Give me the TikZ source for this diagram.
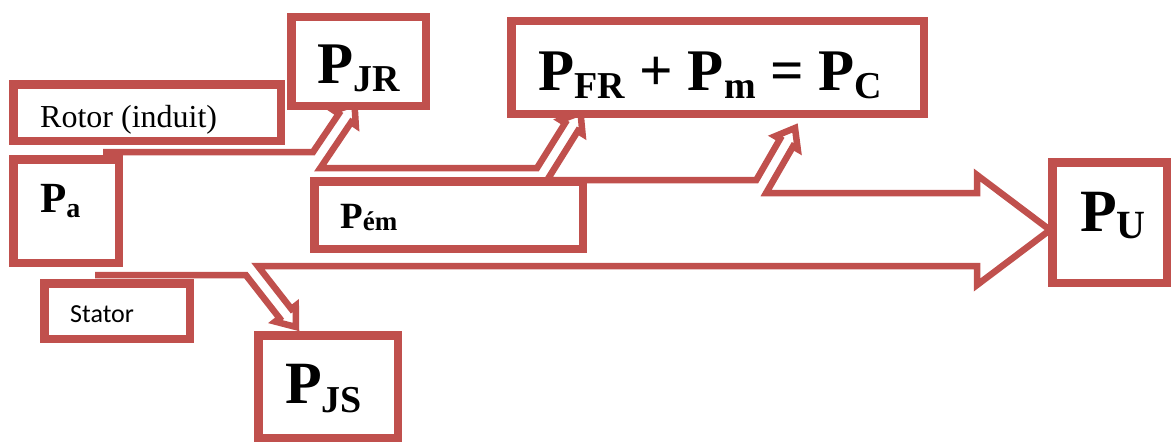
\documentclass[tikz,border=0pt]{standalone}
\usepackage{fontspec}
\setmainfont{Liberation Serif}
\newfontfamily\tnr{Liberation Serif}
\newfontfamily\calibfont{Carlito}
\definecolor{boxred}{HTML}{C0504D}
\newcommand\psub[4]{{\tnr\fontsize{#1}{#1}\selectfont\bfseries P}\raisebox{-#3pt}{\tnr\fontsize{#2}{#2}\selectfont\bfseries #4}}
\newcommand\flowhead[9]{%
 \pgfmathsetmacro\fhUX{cos(#4)}%
 \pgfmathsetmacro\fhUY{sin(#4)}%
 \pgfmathsetmacro\fhNX{-1*(\fhUY)}%
 \pgfmathsetmacro\fhNY{\fhUX}%
 \pgfmathsetmacro\fhBX{#2-(#5)*(\fhNX)}%
 \pgfmathsetmacro\fhBY{#3-(#5)*(\fhNY)}%
 \pgfmathsetmacro\fhCX{#2-(#6)*(\fhNX)}%
 \pgfmathsetmacro\fhCY{#3-(#6)*(\fhNY)}%
 \pgfmathsetmacro\fhDX{#2+(#7)*(\fhUX)}%
 \pgfmathsetmacro\fhDY{#3+(#7)*(\fhUY)}%
 \pgfmathsetmacro\fhEX{#2+(#6)*(\fhNX)}%
 \pgfmathsetmacro\fhEY{#3+(#6)*(\fhNY)}%
 \pgfmathsetmacro\fhFX{#2+(#5)*(\fhNX)}%
 \pgfmathsetmacro\fhFY{#3+(#5)*(\fhNY)}%
 \pgfmathsetmacro\fhAX{\fhBX+(#8-\fhBY)/(\fhUY)*(\fhUX)}%
 \pgfmathsetmacro\fhGX{\fhFX+(#9-\fhFY)/(\fhUY)*(\fhUX)}%
 \coordinate (#1-a) at (\fhAX,#8);
 \coordinate (#1-b) at (\fhBX,\fhBY);
 \coordinate (#1-c) at (\fhCX,\fhCY);
 \coordinate (#1-d) at (\fhDX,\fhDY);
 \coordinate (#1-e) at (\fhEX,\fhEY);
 \coordinate (#1-f) at (\fhFX,\fhFY);
 \coordinate (#1-g) at (\fhGX,#9);
}
\begin{document}
\begin{tikzpicture}[x=1pt,y=-1pt,
  box/.style={draw=boxred, line width=8.5pt, fill=white, rectangle, inner sep=0pt},
  flow/.style={draw=boxred, line width=6.5pt, line join=miter},
  lbl/.style={anchor=base west, inner sep=0pt, text=black, font=\tnr}]
\useasboundingbox (0,0) rectangle (1172,444);
% flow heads
\flowhead{JR}{345}{118}{-56}{7.5}{13}{17}{152}{168}
\flowhead{FR}{571.5}{127}{-58}{7.5}{13}{17}{168}{180}
\flowhead{CC}{786.5}{142.7}{-60}{7.5}{13}{17}{180}{193}
\flowhead{JS}{285.5}{313.6}{52}{7.5}{13}{17}{266}{275}
\coordinate (inTop) at (103,152);
\coordinate (inBot) at (95,275);
\coordinate (U1) at (977,193);
\coordinate (U2) at (977,175);
\coordinate (Utip) at (1050,230);
\coordinate (U3) at (977,285);
\coordinate (U4) at (977,266);
\draw[flow] (inTop) -- (JR-a) -- (JR-b) -- (JR-c) -- (JR-d) -- (JR-e) -- (JR-f) -- (JR-g)
  -- (FR-a) -- (FR-b) -- (FR-c) -- (FR-d) -- (FR-e) -- (FR-f) -- (FR-g)
  -- (CC-a) -- (CC-b) -- (CC-c) -- (CC-d) -- (CC-e) -- (CC-f) -- (CC-g)
  -- (U1) -- (U2) -- (Utip) -- (U3) -- (U4)
  -- (JS-a) -- (JS-b) -- (JS-c) -- (JS-d) -- (JS-e) -- (JS-f) -- (JS-g) -- (inBot);
% boxes
\node[box, minimum width=267.5pt, minimum height=56.5pt] (rotor) at (147,112.5) {};
\node[box, minimum width=134.5pt, minimum height=88.5pt] (pjr) at (358.5,61.5) {};
\node[box, minimum width=412.5pt, minimum height=92.5pt] (pc) at (717.5,67.5) {};
\node[box, minimum width=105.5pt, minimum height=103.5pt] (pa) at (66,211) {};
\node[box, minimum width=268.5pt, minimum height=67.5pt] (pem) at (448.5,215) {};
\node[box, minimum width=114.5pt, minimum height=120.5pt] (pu) at (1109.5,222.5) {};
\node[box, minimum width=145.5pt, minimum height=55.5pt] (stator) at (117,311) {};
\node[box, minimum width=139.5pt, minimum height=102.5pt] (pjs) at (328,386.5) {};
% labels
\node[lbl] (trotor) at (40,127) {\fontsize{32}{32}\selectfont Rotor (induit)};
\node[lbl, font=\calibfont] (tstator) at (70,322) {\fontsize{26}{26}\selectfont Stator};
\node[lbl] (tjr) at (317,83) {\psub{59}{38}{9}{JR}};
\node[lbl] (tpc) at (538,90) {\fontsize{59}{59}\selectfont\bfseries \psub{59}{38}{8}{FR} + \psub{59}{38}{8}{m} = \psub{59}{38}{8}{C}};
\node[lbl] (tpa) at (40,212) {\psub{43}{28}{5}{a}};
\node[lbl] (tpem) at (340,228) {\psub{37}{27}{2}{ém}};
\node[lbl] (tpu) at (1080,231) {\psub{60}{40}{7}{U}};
\node[lbl] (tpjs) at (285,403) {\psub{60}{38}{9}{JS}};
\end{tikzpicture}
\end{document}
